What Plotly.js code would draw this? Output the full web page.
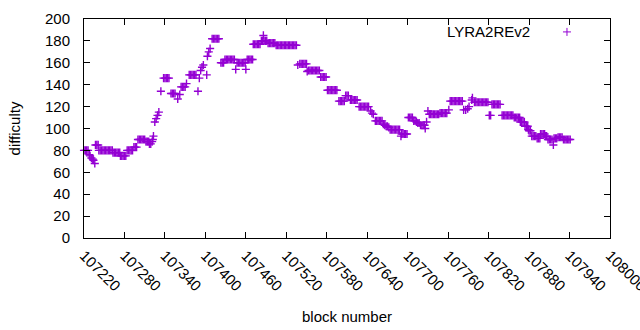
<!DOCTYPE html>
<html>
<head>
<meta charset="utf-8">
<script src="https://cdn.plot.ly/plotly-3.0.1.min.js"></script>
<style>html,body{margin:0;padding:0;background:#fff;}#chart{width:640px;height:330px;}</style>
</head>
<body>
<div id="chart"></div>
<script>
const seriesName = 'LYRA2REv2';
const blockNumber = [
  107220,107222,107224,107226,
  107228,107229,107231,107233,107234,107236,
  107237,107239,107241,
  107242,107244,107246,107248,107250,107252,107254,107256,107258,107260,107262,
  107263,107265,107267,107269,107271,107273,
  107274,107276,107278,107280,107282,
  107284,107286,107288,107290,107292,
  107294,107296,107298,
  107300,107302,107304,107306,107308,107310,
  107312,107314,107316,107317,107319,
  107321,107322,107323,107325,107327,107329,107331,107334,
  107338,107340,107342,107344,107346,
  107349,107351,107353,107355,
  107359,107362,107364,107366,107368,107370,107372,
  107376,107378,107380,107382,107384,107386,
  107389,107391,107393,107395,107397,107402,107403,107405,107407,
  107410,107412,107414,107416,107418,107420,
  107423,107425,107427,
  107429,107431,107433,107435,107437,107439,107441,107443,
  107445,
  107447,107449,107451,107453,107455,107457,107459,
  107460,
  107462,107464,107466,107468,107470,
  107471,107473,107475,107477,107479,107481,
  107483,107485,107486,107487,107489,107491,
  107493,107495,107497,107499,107501,107503,
  107505,107507,107509,107511,107513,107515,107517,107519,
  107521,107523,107525,107527,107529,107531,107533,107535,
  107537,107540,107542,107544,107546,107548,107550,
  107551,107553,107555,107557,107559,107561,107563,107565,107567,107569,
  107571,107573,107575,107577,107579,
  107581,107583,107585,107587,107589,107591,107593,107595,
  107598,107600,107602,107604,107606,
  107608,107610,107612,
  107615,107617,107619,107621,107623,107625,
  107628,107630,107632,107634,107636,107638,107640,107642,
  107645,107647,107649,
  107652,107654,107656,107658,107660,107662,
  107664,107666,107668,107670,107672,
  107674,107676,107678,107680,107682,107684,107686,107688,
  107690,107691,107693,107695,107697,107699,
  107701,107703,107705,107707,
  107709,107711,107713,107715,107717,
  107719,107721,107723,107725,107726,107728,107730,
  107732,107734,107736,107738,107740,107742,107744,107746,
  107748,107750,107752,107754,107756,107758,107761,
  107763,107765,107767,107769,107771,107773,107775,107777,107779,107781,
  107783,107786,107789,107791,107795,107796,
  107799,107801,107803,107805,107807,107809,107811,107813,107815,107817,107819,
  107821,107823,
  107825,107827,107829,107831,107833,107835,107837,
  107840,107842,107844,107846,107848,107850,107852,107854,107856,
  107858,107860,107862,107864,107866,
  107867,107869,107871,107873,
  107874,107876,107878,107879,107880,107882,
  107884,107886,107888,107890,
  107892,107894,107896,
  107897,107899,107901,107903,
  107904,107906,107908,107910,107912,107914,107916,
  107917,107919,107921,107923,107925,107927,107929,
  107931,107933,107935,107937,107939,107941
];
const difficulty = [
  80,80,80,80,
  76,75,73,72,71,68,
  85,85,85,
  80,80,80,80,80,80,80,80,80,80,80,
  78,78,78,78,78,78,
  75,75,75,75,75,
  80,80,80,80,80,
  83,83,83,
  90,90,90,90,90,90,
  88,88,88,86,86,
  88,90,93,106,109,112,115,134,
  146,146,146,146,146,
  132,132,132,132,
  127,131,138,138,138,138,141,
  149,149,149,149,149,149,
  134,146,153,156,158,149,166,170,173,
  182,182,182,182,182,182,
  160,160,160,
  163,163,163,163,163,163,163,163,
  154,
  160,160,160,160,160,160,160,
  154,
  163,163,163,163,163,
  177,177,177,177,177,177,
  180,180,185,180,180,180,
  178,178,178,178,178,178,
  176,176,176,176,176,176,176,176,
  176,176,176,176,176,176,176,176,
  158,159,159,159,159,159,159,
  152,153,153,153,153,153,153,153,153,153,
  147,147,147,147,147,
  135,135,135,135,135,135,135,135,
  125,125,125,125,125,
  130,130,130,
  126,126,126,126,126,126,
  120,120,120,120,120,120,120,120,
  116,114,113,
  107,107,107,107,107,107,
  104,103,102,102,101,
  99,99,99,99,99,99,99,99,
  93,95,95,95,95,95,
  110,110,110,110,
  107,107,106,105,105,
  103,103,103,103,100,106,116,
  113,113,113,113,113,113,113,113,
  114,114,114,114,114,114,117,
  125,125,125,125,125,125,125,125,125,125,
  117,117,118,120,126,128,
  124,124,124,124,124,124,124,124,124,124,124,
  112,112,
  122,122,122,122,122,122,122,
  112,112,112,112,112,112,112,112,112,
  110,110,110,110,110,
  106,106,106,106,
  102,102,102,99,98,98,
  93,93,93,93,
  91,91,91,
  95,95,95,95,
  93,93,90,90,90,90,85,
  91,91,91,92,92,92,92,
  90,90,90,90,90,90
];
const xTickValues = [107220,107280,107340,107400,107460,107520,107580,107640,107700,107760,107820,107880,107940,108000];
const xTickLabels = ['107220','107280','107340','107400','107460','107520','107580','107640','107700','107760','107820','107880','107940','108000'];
const yTickValues = [0,20,40,60,80,100,120,140,160,180,200];
const yTickLabels = ['0','20','40','60','80','100','120','140','160','180','200'];

const purple = '#9400D3';
const font = {family: '"Liberation Sans", Arial, sans-serif', size: 15, color: '#000'};

const trace = {
  type: 'scatter', mode: 'markers', name: seriesName,
  x: blockNumber, y: difficulty, cliponaxis: false,
  marker: {symbol: 'cross-thin-open', size: 5.8, color: purple, line: {color: purple, width: 1.4}},
  showlegend: false, hoverinfo: 'x+y'
};

const axisCommon = {
  ticks: 'inside', ticklen: 6, tickwidth: 1, tickcolor: '#000',
  mirror: 'allticks', showline: true, linecolor: '#000', linewidth: 1,
  showgrid: false, zeroline: false, automargin: false, tickfont: font
};

const layout = {
  width: 640, height: 330,
  margin: {l: 84, r: 30, t: 19, b: 92, pad: 0},
  paper_bgcolor: '#fff', plot_bgcolor: '#fff',
  font: font,
  xaxis: Object.assign({}, axisCommon, {
    range: [107220, 108000], tickmode: 'array', tickvals: xTickValues, ticktext: xTickLabels,
    tickangle: 45, ticklabelstandoff: 2, ticklabeloverflow: 'allow',
    title: {text: 'block number', font: font, standoff: 18}
  }),
  yaxis: Object.assign({}, axisCommon, {
    range: [0, 200], tickmode: 'array', tickvals: yTickValues, ticktext: yTickLabels,
    ticklabelstandoff: 10,
    title: {text: 'difficulty', font: font, standoff: 20}
  }),
  annotations: [{
    xref: 'paper', yref: 'paper', x: 0.852, y: 0.945, xanchor: 'right', yanchor: 'middle',
    text: seriesName, showarrow: false, font: font
  }],
  shapes: [
    {type: 'line', xref: 'paper', yref: 'paper', x0: 0.9106, x1: 0.9258, y0: 0.941, y1: 0.941, line: {color: purple, width: 1}},
    {type: 'line', xref: 'paper', yref: 'paper', x0: 0.9182, x1: 0.9182, y0: 0.9227, y1: 0.9593, line: {color: purple, width: 1}}
  ]
};

Plotly.newPlot('chart', [trace], layout, {displayModeBar: false, staticPlot: true});
</script>
</body>
</html>
